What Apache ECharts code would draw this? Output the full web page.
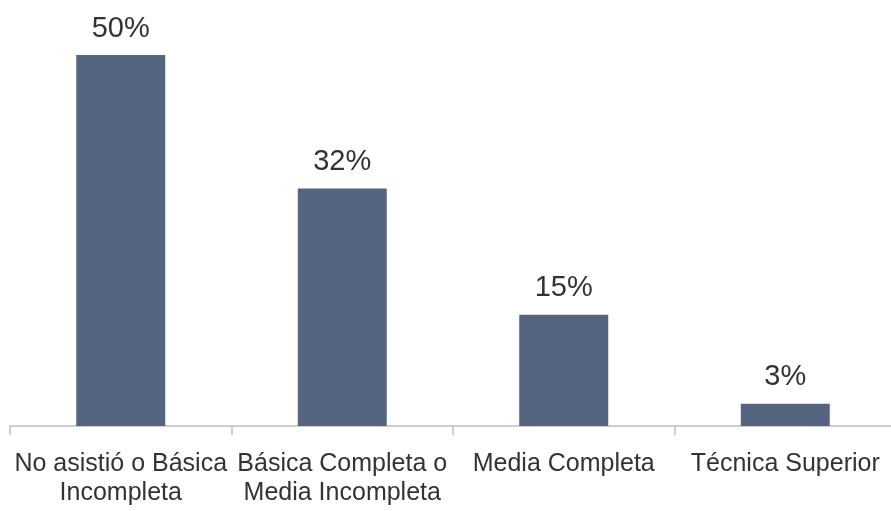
<!DOCTYPE html>
<html><head><meta charset="utf-8">
<script src="https://cdn.jsdelivr.net/npm/echarts@6/dist/echarts.min.js"></script>
<style>html,body{margin:0;padding:0;background:#fff}#c{width:891px;height:511px}</style>
</head><body><div id="c"></div>
<script>
const categories = ["No asistió o Básica\nIncompleta", "Básica Completa o\nMedia Incompleta", "Media Completa", "Técnica Superior"];
const values = [50, 32, 15, 3];
const font = "'Liberation Sans', Arial, sans-serif";
const chart = echarts.init(document.getElementById('c'));
chart.setOption({
  animation: false,
  grid: {left: 10, top: 55, width: 886, bottom: 85, containLabel: false, outerBoundsMode: 'none'},
  xAxis: {
    type: 'category', data: categories,
    axisLine: {lineStyle: {color: '#bfbfbf', width: 1.5}},
    axisTick: {show: true, length: 9, lineStyle: {color: '#bfbfbf', width: 1.5}},
    axisLabel: {color: '#333', fontFamily: font, fontSize: 25, lineHeight: 29, margin: 24, interval: 0}
  },
  yAxis: {type: 'value', min: 0, max: 50, show: false, splitLine: {show: false}},
  series: [{
    type: 'bar', data: values, barWidth: 89,
    itemStyle: {color: '#55657f'},
    label: {show: true, position: 'top', distance: 12, formatter: '{c}%', color: '#333', fontFamily: font, fontSize: 29}
  }]
});
</script></body></html>
